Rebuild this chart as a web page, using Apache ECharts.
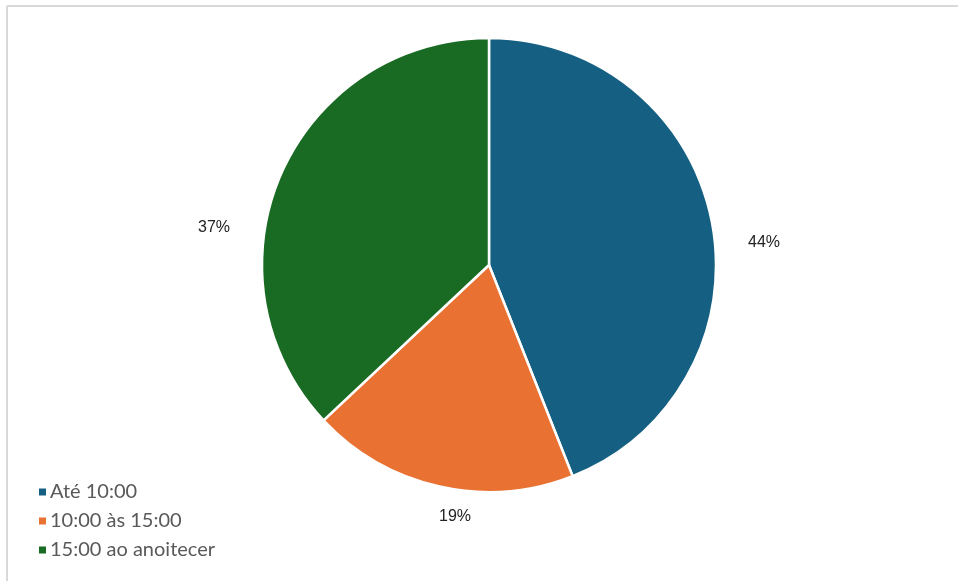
<!DOCTYPE html>
<html>
<head>
<meta charset="utf-8">
<script src="https://cdn.jsdelivr.net/npm/echarts@6/dist/echarts.min.js"></script>
<style>
  html, body { margin: 0; padding: 0; background: #fff; }
  #chart { width: 958px; height: 581px; }
</style>
</head>
<body>
<div id="chart"></div>
<script>
  // slices of the pie, clockwise from 12 o'clock
  const categories = ['Até 10:00', '10:00 às 15:00', '15:00 ao anoitecer'];
  const shares = [44, 19, 37];
  const colors = ['#156082', '#E97132', '#196B24'];

  // where Excel put the percentage labels (label centre, px)
  const labelSpots = [[764, 243], [455, 517], [214, 228]];

  const chart = echarts.init(document.getElementById('chart'));

  chart.setOption({
    animation: false,
    color: colors,
    // thin frame at the top and left, like the screenshot of the workbook
    graphic: [
      { type: 'line', shape: { x1: 7, y1: 6, x2: 958, y2: 6 }, style: { stroke: '#d9d9d9', lineWidth: 2 } },
      { type: 'line', shape: { x1: 7, y1: 6, x2: 7, y2: 581 }, style: { stroke: '#d9d9d9', lineWidth: 2 } }
    ],
    legend: {
      orient: 'vertical',
      left: 32,
      top: 477,
      itemWidth: 9,
      itemHeight: 9,
      itemGap: 9,
      icon: 'rect',
      textStyle: { fontFamily: 'Lato', fontSize: 20, color: '#595959', padding: [0, 0, 0, -2] },
      data: categories
    },
    series: [{
      type: 'pie',
      center: [489, 265],
      radius: [0, 227],
      startAngle: 90,
      clockwise: true,
      itemStyle: { borderColor: '#fff', borderWidth: 2.5 },
      label: {
        show: true,
        position: 'outside',
        formatter: '{c}%',
        fontFamily: 'Liberation Sans',
        fontSize: 16,
        color: '#222'
      },
      labelLine: { show: false },
      labelLayout: function (params) {
        const p = labelSpots[params.dataIndex];
        return { x: p[0], y: p[1], align: 'center', verticalAlign: 'middle' };
      },
      data: categories.map((name, i) => ({ name: name, value: shares[i] }))
    }]
  });
</script>
</body>
</html>
